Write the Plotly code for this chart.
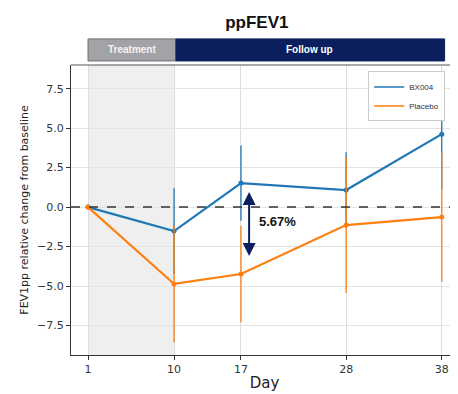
import plotly.graph_objects as go

days = [1, 10, 17, 28, 38]
bx004_mean = [0.0, -1.52, 1.52, 1.08, 4.62]
bx004_err = [0.0, 2.72, 2.38, 2.4, 3.5]
placebo_mean = [0.0, -4.87, -4.24, -1.14, -0.63]
placebo_err = [0.0, 3.7, 3.05, 4.3, 4.1]
tick_vals = [1, 10, 17, 28, 38]
diff_label = "5.67%"

BLUE = "#1f77b4"
ORANGE = "#ff7f0e"
NAVY = "#0b1f5e"

fig = go.Figure()

fig.add_trace(go.Scatter(
    x=days, y=bx004_mean, name="BX004", mode="lines+markers", showlegend=False,
    line=dict(color=BLUE, width=2.2), marker=dict(size=5, color=BLUE),
    error_y=dict(type="data", array=bx004_err, color=BLUE, thickness=1.3, width=0),
))
fig.add_trace(go.Scatter(
    x=days, y=placebo_mean, name="Placebo", mode="lines+markers", showlegend=False,
    line=dict(color=ORANGE, width=2.2), marker=dict(size=5, color=ORANGE),
    error_y=dict(type="data", array=placebo_err, color=ORANGE, thickness=1.3, width=0),
))
fig.add_trace(go.Scatter(x=[None], y=[None], name="BX004", mode="lines",
                         line=dict(color=BLUE, width=1.5)))
fig.add_trace(go.Scatter(x=[None], y=[None], name="Placebo", mode="lines",
                         line=dict(color=ORANGE, width=1.5)))

shapes = [
    dict(type="rect", xref="x", yref="paper", x0=1, x1=10, y0=0, y1=1,
         fillcolor="#efefef", line=dict(width=0), layer="below"),
    dict(type="line", xref="paper", yref="y", x0=0, x1=1, y0=0, y1=0,
         line=dict(color="#333333", width=1.5, dash="dash")),
    dict(type="rect", xref="x", yref="paper", x0=1, x1=10.2, y0=1.014, y1=1.09,
         fillcolor="#a3a3a7", line=dict(color="#6e6e72", width=1)),
    dict(type="rect", xref="x", yref="paper", x0=10.2, x1=38.3, y0=1.014, y1=1.09,
         fillcolor=NAVY, line=dict(color=NAVY, width=1)),
    dict(type="line", xref="paper", yref="paper", x0=0, x1=1, y0=1, y1=1,
         line=dict(color="#555555", width=1.2)),
]

annotations = [
    dict(text="<b>Treatment</b>", xref="x", yref="paper", x=5.6, y=1.052,
         showarrow=False, yanchor="middle",
         font=dict(color="#f4f4f4", size=10, family="Liberation Sans")),
    dict(text="<b>Follow up</b>", xref="x", yref="paper", x=24.2, y=1.052,
         showarrow=False, yanchor="middle",
         font=dict(color="white", size=10, family="Liberation Sans")),
    dict(x=17.85, y=0.95, ax=17.85, ay=-3.2, xref="x", yref="y", axref="x", ayref="y",
         showarrow=True, arrowhead=2, arrowside="end+start", arrowsize=1.3,
         arrowwidth=2, arrowcolor=NAVY, text=""),
    dict(text="<b>" + diff_label + "</b>", xref="x", yref="y", x=20.8, y=-0.9,
         showarrow=False, font=dict(color="#111111", size=13, family="Liberation Sans")),
]

# page body has an 8px default margin; figure is sized to fit the window
fig.update_layout(
    width=450, height=386,
    margin=dict(l=63, r=0, t=57, b=39),
    paper_bgcolor="white", plot_bgcolor="white",
    title=dict(text="<b>ppFEV1</b>", x=0.553, xanchor="center", y=1 - 14 / 386,
               yanchor="middle", yref="container",
               font=dict(size=17, color="#111111", family="Liberation Sans")),
    shapes=shapes, annotations=annotations,
    showlegend=True,
    legend=dict(x=0.768, y=0.978, xanchor="left", yanchor="top",
                bgcolor="white", bordercolor="#cccccc", borderwidth=1,
                font=dict(size=8, color="#333333", family="Liberation Sans"),
                itemwidth=30, tracegroupgap=0),
    font=dict(family="DejaVu Sans", color="#333333"),
)

fig.update_xaxes(
    range=[-0.78, 39.7], tickvals=tick_vals, ticktext=[str(t) for t in tick_vals],
    showgrid=True, gridcolor="#dddddd", gridwidth=1,
    showline=True, linecolor="#333333", linewidth=1.2, mirror=False,
    ticks="outside", ticklen=4, tickcolor="#333333",
    tickfont=dict(size=11, color="#333333"),
    title=dict(text="Day", font=dict(size=15, color="#222222"), standoff=2),
    zeroline=False, automargin=False,
)
fig.update_yaxes(
    range=[-9.37, 9.0], tickvals=[-7.5, -5.0, -2.5, 0.0, 2.5, 5.0, 7.5],
    ticktext=["\u22127.5", "\u22125.0", "\u22122.5", "0.0", "2.5", "5.0", "7.5"],
    showgrid=True, gridcolor="#e3e3e3", gridwidth=1,
    showline=True, linecolor="#333333", linewidth=1.2,
    ticks="outside", ticklen=4, tickcolor="#333333",
    tickfont=dict(size=11, color="#333333"),
    title=dict(text="FEV1pp relative change from baseline",
               font=dict(size=11, color="#222222"), standoff=6),
    zeroline=False, automargin=False,
)

fig.write_html("out.html")
